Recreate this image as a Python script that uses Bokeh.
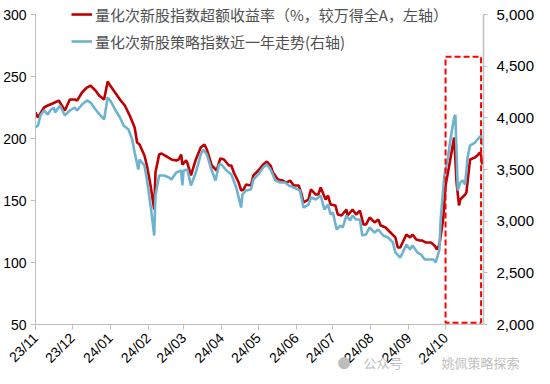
import math
import pandas as pd
from bokeh.plotting import figure
from bokeh.models import (LinearAxis, Range1d, DatetimeTickFormatter, FixedTicker,
                          NumeralTickFormatter, Legend, LegendItem, BoxAnnotation)
from bokeh.embed import file_html
from bokeh.resources import INLINE

# ---------------- data ----------------
excess_dates = [
    "2023-11-01", "2023-11-03", "2023-11-08", "2023-11-11", "2023-11-15", "2023-11-20", "2023-11-25",
    "2023-11-29", "2023-12-03", "2023-12-05", "2023-12-09", "2023-12-13", "2023-12-16", "2023-12-20",
    "2023-12-23", "2023-12-27", "2023-12-30", "2024-01-01", "2024-01-05", "2024-01-09", "2024-01-13",
    "2024-01-17", "2024-01-21", "2024-01-23", "2024-01-25", "2024-01-29", "2024-01-31", "2024-02-03",
    "2024-02-06", "2024-02-07", "2024-02-10", "2024-02-12", "2024-02-16", "2024-02-20", "2024-02-24",
    "2024-02-26", "2024-02-28", "2024-02-29", "2024-03-03", "2024-03-04", "2024-03-07", "2024-03-11",
    "2024-03-15", "2024-03-18", "2024-03-20", "2024-03-24", "2024-03-28", "2024-03-31", "2024-04-03",
    "2024-04-07", "2024-04-09", "2024-04-11", "2024-04-15", "2024-04-17", "2024-04-19", "2024-04-21",
    "2024-04-25", "2024-04-27", "2024-05-01", "2024-05-05", "2024-05-08", "2024-05-11", "2024-05-13",
    "2024-05-17", "2024-05-21", "2024-05-24", "2024-05-27", "2024-05-30", "2024-06-03", "2024-06-05",
    "2024-06-07", "2024-06-11", "2024-06-13", "2024-06-17", "2024-06-19", "2024-06-21", "2024-06-25",
    "2024-06-27", "2024-06-29", "2024-07-03", "2024-07-05", "2024-07-08", "2024-07-12", "2024-07-13",
    "2024-07-17", "2024-07-20", "2024-07-23", "2024-07-26", "2024-07-28", "2024-07-31", "2024-08-04",
    "2024-08-07", "2024-08-09", "2024-08-13", "2024-08-17", "2024-08-21", "2024-08-23", "2024-08-25",
    "2024-08-30", "2024-09-02", "2024-09-04", "2024-09-07", "2024-09-10", "2024-09-12", "2024-09-15",
    "2024-09-19", "2024-09-22", "2024-09-24", "2024-09-26", "2024-09-29", "2024-10-01", "2024-10-04",
    "2024-10-07", "2024-10-08", "2024-10-10", "2024-10-12", "2024-10-13", "2024-10-17", "2024-10-18",
    "2024-10-21", "2024-10-25", "2024-10-27", "2024-10-29", "2024-10-30", "2024-10-31",
]
excess_values = [
    221.0, 216.9, 225.0, 226.6, 228.2, 230.6, 222.6,
    231.4, 231.4, 230.6, 237.1, 241.1, 242.7, 238.7,
    234.7, 231.4, 246.0, 242.7, 237.1, 231.4, 226.6,
    218.5, 208.9, 196.8, 195.2, 186.3, 178.2, 162.1,
    142.7, 172.6, 187.1, 187.9, 185.5, 183.1, 182.3,
    183.1, 187.1, 179.0, 182.3, 180.6, 170.2, 183.1,
    192.7, 195.2, 191.1, 178.2, 174.2, 183.9, 183.1,
    178.2, 178.2, 172.6, 164.5, 158.1, 158.9, 162.9,
    162.1, 170.2, 174.2, 179.0, 181.4, 178.2, 172.6,
    166.9, 166.1, 164.5, 166.1, 162.1, 162.1, 156.4,
    148.4, 150.8, 158.9, 154.8, 154.8, 160.5, 150.8,
    154.0, 146.8, 146.0, 138.7, 137.9, 142.7, 137.9,
    142.7, 138.7, 141.9, 130.6, 130.6, 136.3, 132.3,
    134.7, 129.8, 128.2, 124.2, 120.2, 112.1, 112.1,
    122.6, 120.2, 122.6, 118.5, 117.7, 117.7, 116.1,
    116.1, 113.7, 110.5, 114.5, 134.7, 162.1, 178.2,
    195.2, 200.8, 164.5, 146.0, 150.8, 154.8, 156.4,
    183.1, 184.7, 186.3, 188.7, 186.3, 179.0,
]

index_dates = [
    "2023-11-01", "2023-11-03", "2023-11-05", "2023-11-08", "2023-11-11", "2023-11-13", "2023-11-16",
    "2023-11-17", "2023-11-21", "2023-11-25", "2023-11-29", "2023-12-03", "2023-12-05", "2023-12-09",
    "2023-12-13", "2023-12-16", "2023-12-20", "2023-12-24", "2023-12-27", "2023-12-30", "2024-01-01",
    "2024-01-05", "2024-01-09", "2024-01-12", "2024-01-16", "2024-01-19", "2024-01-21", "2024-01-24",
    "2024-01-25", "2024-01-29", "2024-01-31", "2024-02-03", "2024-02-06", "2024-02-07", "2024-02-10",
    "2024-02-12", "2024-02-14", "2024-02-18", "2024-02-20", "2024-02-24", "2024-02-28", "2024-02-29",
    "2024-03-01", "2024-03-04", "2024-03-07", "2024-03-11", "2024-03-15", "2024-03-17", "2024-03-20",
    "2024-03-24", "2024-03-27", "2024-03-30", "2024-04-01", "2024-04-05", "2024-04-09", "2024-04-13",
    "2024-04-17", "2024-04-18", "2024-04-21", "2024-04-25", "2024-04-27", "2024-05-01", "2024-05-05",
    "2024-05-08", "2024-05-11", "2024-05-15", "2024-05-19", "2024-05-23", "2024-05-26", "2024-05-30",
    "2024-06-04", "2024-06-07", "2024-06-11", "2024-06-13", "2024-06-17", "2024-06-21", "2024-06-24",
    "2024-06-27", "2024-06-29", "2024-07-01", "2024-07-04", "2024-07-07", "2024-07-09", "2024-07-12",
    "2024-07-15", "2024-07-17", "2024-07-20", "2024-07-23", "2024-07-25", "2024-07-28", "2024-07-31",
    "2024-08-04", "2024-08-07", "2024-08-11", "2024-08-15", "2024-08-19", "2024-08-21", "2024-08-25",
    "2024-08-27", "2024-08-30", "2024-09-02", "2024-09-04", "2024-09-08", "2024-09-11", "2024-09-14",
    "2024-09-18", "2024-09-21", "2024-09-23", "2024-09-26", "2024-09-27", "2024-09-30", "2024-10-03",
    "2024-10-05", "2024-10-08", "2024-10-09", "2024-10-10", "2024-10-11", "2024-10-13", "2024-10-15",
    "2024-10-17", "2024-10-19", "2024-10-21", "2024-10-25", "2024-10-27", "2024-10-30", "2024-10-31",
]
index_values = [
    3906, 3926, 4023, 4071, 4032, 4071, 4100,
    4052, 4119, 4023, 4071, 4100, 4071, 4129,
    4168, 4148, 4081, 4023, 3984, 4197, 4168,
    4081, 4003, 3926, 3887, 3790, 3665, 3500,
    3597, 3539, 3403, 3152, 2861, 3248, 3442,
    3442, 3442, 3423, 3403, 3471, 3490, 3345,
    3490, 3500, 3345, 3471, 3645, 3694, 3645,
    3490, 3394, 3548, 3548, 3490, 3452, 3326,
    3132, 3258, 3297, 3307, 3403, 3452, 3519,
    3548, 3500, 3394, 3374, 3374, 3345, 3326,
    3297, 3132, 3161, 3229, 3210, 3248, 3113,
    3161, 3065, 3084, 2919, 2958, 2939, 3055,
    3007, 3055, 3016, 3016, 2861, 2871, 2939,
    2890, 2919, 2861, 2842, 2794, 2697, 2648,
    2697, 2774, 2726, 2765, 2697, 2677, 2629,
    2629, 2629, 2600, 2726, 3016, 3442, 3616,
    3790, 4003, 4030, 3665, 3297, 3374, 3394,
    3355, 3616, 3732, 3761, 3790, 3829, 3732,
]

month_ticks = ["2023-11-01", "2023-12-01", "2024-01-01", "2024-02-01", "2024-03-01", "2024-04-01",
               "2024-05-01", "2024-06-01", "2024-07-01", "2024-08-01", "2024-09-01", "2024-10-01"]
x_start, x_end = "2023-11-01", "2024-11-01"
left_min, left_max = 50, 300
right_min, right_max = 2000, 5000
left_ticks = [50, 100, 150, 200, 250, 300]
right_ticks = [2000, 2500, 3000, 3500, 4000, 4500, 5000]

highlight_start, highlight_end = "2024-10-01", "2024-10-30"
highlight_bottom, highlight_top = 51.5, 266

excess_label = "量化次新股指数超额收益率（%，较万得全A，左轴）"
index_label = "量化次新股策略指数近一年走势(右轴)"
watermark_text = "●　公众号　·　姚佩策略探索"
WATERMARK_INDENT = 26  # ideographic spaces pushing the centred watermark to the right

RED = "#C00000"
BLUE = "#6DB3D0"
AXIS_GRAY = "#BFBFBF"
TICK_FONT = "Liberation Sans"
CJK_FONT = "Noto Sans CJK SC"

# layout: plot area 310 px tall for the axis span; extra headroom above it for the legend
AXIS_SPAN_PX = 310
HEADROOM_PX = 14


def to_ms(d):
    return pd.Timestamp(d).value / 1e6


left_top = left_max + HEADROOM_PX * (left_max - left_min) / AXIS_SPAN_PX
right_top = right_max + HEADROOM_PX * (right_max - right_min) / AXIS_SPAN_PX

p = figure(width=542, height=376, output_backend="svg", toolbar_location=None,
           x_axis_type="datetime",
           x_range=Range1d(pd.Timestamp(x_start), pd.Timestamp(x_end)),
           y_range=Range1d(left_min, left_top),
           min_border_left=33, min_border_right=59, min_border_top=0, min_border_bottom=52)
p.outline_line_color = None
p.xgrid.visible = False
p.ygrid.visible = False
p.background_fill_color = "white"
p.border_fill_color = "white"

p.extra_y_ranges = {"right": Range1d(right_min, right_top)}

r_red = p.line(pd.to_datetime(excess_dates), excess_values, line_color=RED, line_width=2.6)
r_blue = p.line(pd.to_datetime(index_dates), index_values, line_color=BLUE, line_width=2.6,
                y_range_name="right")

# x axis (its axis label carries the watermark, pulled up over the tick-label band)
xa = p.xaxis[0]
xa.ticker = FixedTicker(ticks=[to_ms(d) for d in month_ticks])
xa.formatter = DatetimeTickFormatter(days="%y/%m", months="%y/%m", years="%y/%m")
xa.major_label_orientation = math.pi / 4
xa.axis_line_color = AXIS_GRAY
xa.major_tick_line_color = AXIS_GRAY
xa.major_tick_out = 5
xa.major_tick_in = 0
xa.minor_tick_line_color = None
xa.major_label_text_font = TICK_FONT
xa.major_label_text_font_size = "14px"
xa.major_label_text_color = "#000000"
xa.major_label_standoff = 6
xa.axis_label = "\u3000" * WATERMARK_INDENT + watermark_text
xa.axis_label_align = "center"
xa.axis_label_standoff = -22
xa.axis_label_text_font = CJK_FONT
xa.axis_label_text_font_size = "13px"
xa.axis_label_text_font_style = "normal"
xa.axis_label_text_color = "#A8A8A8"
xa.axis_label_text_alpha = 0.75

# left axis
ya = p.yaxis[0]
ya.ticker = FixedTicker(ticks=left_ticks)
ya.bounds = (left_min, left_max)
ya.axis_line_color = AXIS_GRAY
ya.major_tick_line_color = AXIS_GRAY
ya.major_tick_out = 5
ya.major_tick_in = 0
ya.minor_tick_line_color = None
ya.major_label_text_font = TICK_FONT
ya.major_label_text_font_size = "14px"
ya.major_label_text_color = "#000000"
ya.major_label_standoff = 4

# right axis
ra = LinearAxis(y_range_name="right", ticker=FixedTicker(ticks=right_ticks),
                formatter=NumeralTickFormatter(format="0,0"), bounds=(right_min, right_max))
ra.axis_line_color = AXIS_GRAY
ra.axis_line_width = 1.5
ra.major_tick_line_color = AXIS_GRAY
ra.major_tick_out = 4
ra.major_tick_in = 0
ra.minor_tick_line_color = None
ra.major_label_text_font = TICK_FONT
ra.major_label_text_font_size = "15px"
ra.major_label_text_color = "#000000"
ra.major_label_standoff = 9
p.add_layout(ra, "right")

# highlight box
box = BoxAnnotation(left=to_ms(highlight_start), right=to_ms(highlight_end),
                    bottom=highlight_bottom, top=highlight_top,
                    fill_alpha=0, line_color="#FF0000", line_alpha=1.0, line_width=2,
                    line_dash="6 3")
p.add_layout(box)

# legend
legend = Legend(items=[LegendItem(label=excess_label, renderers=[r_red]),
                       LegendItem(label=index_label, renderers=[r_blue])],
                location=(36, 272), orientation="vertical",
                glyph_width=21, glyph_height=22, label_height=22, spacing=5,
                padding=0, margin=0, label_standoff=3,
                label_text_font=CJK_FONT, label_text_font_size="15px",
                label_text_color="#505050",
                border_line_alpha=0, background_fill_alpha=0)
p.add_layout(legend)

open("out.html", "w").write(file_html(p, INLINE))
